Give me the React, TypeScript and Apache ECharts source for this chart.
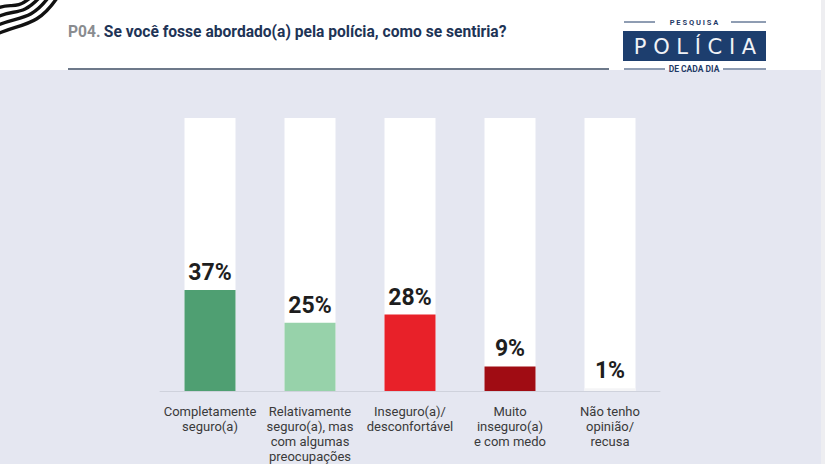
import React, { useEffect, useRef } from "react";
import * as echarts from "echarts";

const categories: string[] = [
  "Completamente\nseguro(a)",
  "Relativamente\nseguro(a), mas\ncom algumas\npreocupações",
  "Inseguro(a)/\ndesconfortável",
  "Muito\ninseguro(a)\ne com medo",
  "Não tenho\nopinião/\nrecusa",
];
const values: number[] = [37, 25, 28, 9, 1];
const barColors: string[] = ["#4f9f72", "#97d2aa", "#e82129", "#a00c13", "#f4f4f6"];
const backgroundValues: number[] = [100, 100, 100, 100, 100];
const titlePrefix = "P04.";
const titleText = "Se você fosse abordado(a) pela polícia, como se sentiria?";

export default function App() {
  const ref = useRef<HTMLDivElement>(null);
  useEffect(() => {
    document.body.style.margin = "0";
    if (!ref.current) return;
    const chart = echarts.init(ref.current, null, { renderer: "svg" });
    const navy = "#1f3a66";
    const stripes: any[] = [0, 1, 2, 3].map((i) => ({
      type: "bezierCurve",
      shape: {
        x1: -2,
        y1: 8 + i * 8.5,
        cpx1: 12 + i * 4,
        cpy1: 2 + i * 7,
        cpx2: 14 + i * 8,
        cpy2: 11 + i * 5,
        x2: 30 + i * 9,
        y2: -2,
      },
      style: { stroke: "#111", lineWidth: 3.4, fill: null },
      z: 5,
    }));
    chart.setOption({
      animation: false,
      backgroundColor: "#e5e7f1",
      grid: { left: 160, width: 500, top: 118, height: 277 },
      xAxis: {
        type: "category",
        data: categories,
        axisLine: { show: true, lineStyle: { color: "#cfd2dc", width: 1 } },
        axisTick: { show: false },
        axisLabel: {
          color: "#3a3a3a",
          fontFamily: "Roboto",
          fontSize: 13,
          lineHeight: 15,
          margin: 13,
          interval: 0,
        },
      },
      yAxis: { type: "value", min: 0, max: 100, show: false, splitLine: { show: false } },
      series: [
        {
          type: "bar",
          data: backgroundValues,
          barWidth: 51,
          barGap: "-100%",
          itemStyle: { color: "#ffffff" },
          silent: true,
          z: 1,
        },
        {
          type: "bar",
          data: values.map((v, i) => ({ value: v, itemStyle: { color: barColors[i] } })),
          barWidth: 51,
          barGap: "-100%",
          z: 2,
          label: {
            show: true,
            position: "top",
            distance: 6,
            formatter: "{c}%",
            fontFamily: "Roboto",
            fontWeight: "bold",
            fontSize: 23,
            color: "#1e1e1e",
          },
        },
      ],
      graphic: [
        { type: "rect", shape: { x: 0, y: 0, width: 825, height: 70 }, style: { fill: "#ffffff" }, z: 0 },
        { type: "rect", shape: { x: 821, y: 0, width: 4, height: 464 }, style: { fill: "#eeeef1" }, z: 0 },
        ...stripes,
        {
          type: "text",
          x: 68,
          y: 32,
          style: {
            text: "{a|" + titlePrefix + "} {b|" + titleText + "}",
            verticalAlign: "middle",
            rich: {
              a: { fontFamily: "Roboto", fontWeight: "bold", fontSize: 15.6, fill: "#8a8c90" },
              b: { fontFamily: "Roboto", fontWeight: "bold", fontSize: 15.6, fill: "#1e3456" },
            },
          },
          z: 5,
        },
        { type: "line", shape: { x1: 68, y1: 69, x2: 609, y2: 69 }, style: { stroke: "#3d4d63", lineWidth: 1.5 }, z: 5 },
        { type: "line", shape: { x1: 624, y1: 22, x2: 655, y2: 22 }, style: { stroke: navy, lineWidth: 1 }, z: 5 },
        { type: "line", shape: { x1: 731, y1: 22, x2: 766, y2: 22 }, style: { stroke: navy, lineWidth: 1 }, z: 5 },
        {
          type: "text",
          x: 694,
          y: 22,
          style: { text: "P E S Q U I S A", fontFamily: "Roboto", fontWeight: "bold", fontSize: 7.5, fill: navy, align: "center", verticalAlign: "middle" },
          z: 5,
        },
        { type: "rect", shape: { x: 623, y: 31, width: 143, height: 30 }, style: { fill: "#1d3e6e" }, z: 5 },
        {
          type: "text",
          x: 695,
          y: 47,
          style: { text: "P O L Í C I A", fontFamily: "DejaVu Sans", fontWeight: "normal", fontSize: 21, fill: "#f0f2f6", align: "center", verticalAlign: "middle" },
          z: 6,
        },
        { type: "line", shape: { x1: 624, y1: 69, x2: 665, y2: 69 }, style: { stroke: navy, lineWidth: 1 }, z: 5 },
        { type: "line", shape: { x1: 723, y1: 69, x2: 766, y2: 69 }, style: { stroke: navy, lineWidth: 1 }, z: 5 },
        {
          type: "text",
          x: 694,
          y: 69,
          style: { text: "DE CADA DIA", fontFamily: "Roboto", fontWeight: "bold", fontSize: 8.5, fill: navy, align: "center", verticalAlign: "middle" },
          z: 5,
        },
      ],
    });
    return () => chart.dispose();
  }, []);
  return <div ref={ref} style={{ position: "absolute", left: 0, top: 0, width: 825, height: 464 }} />;
}
